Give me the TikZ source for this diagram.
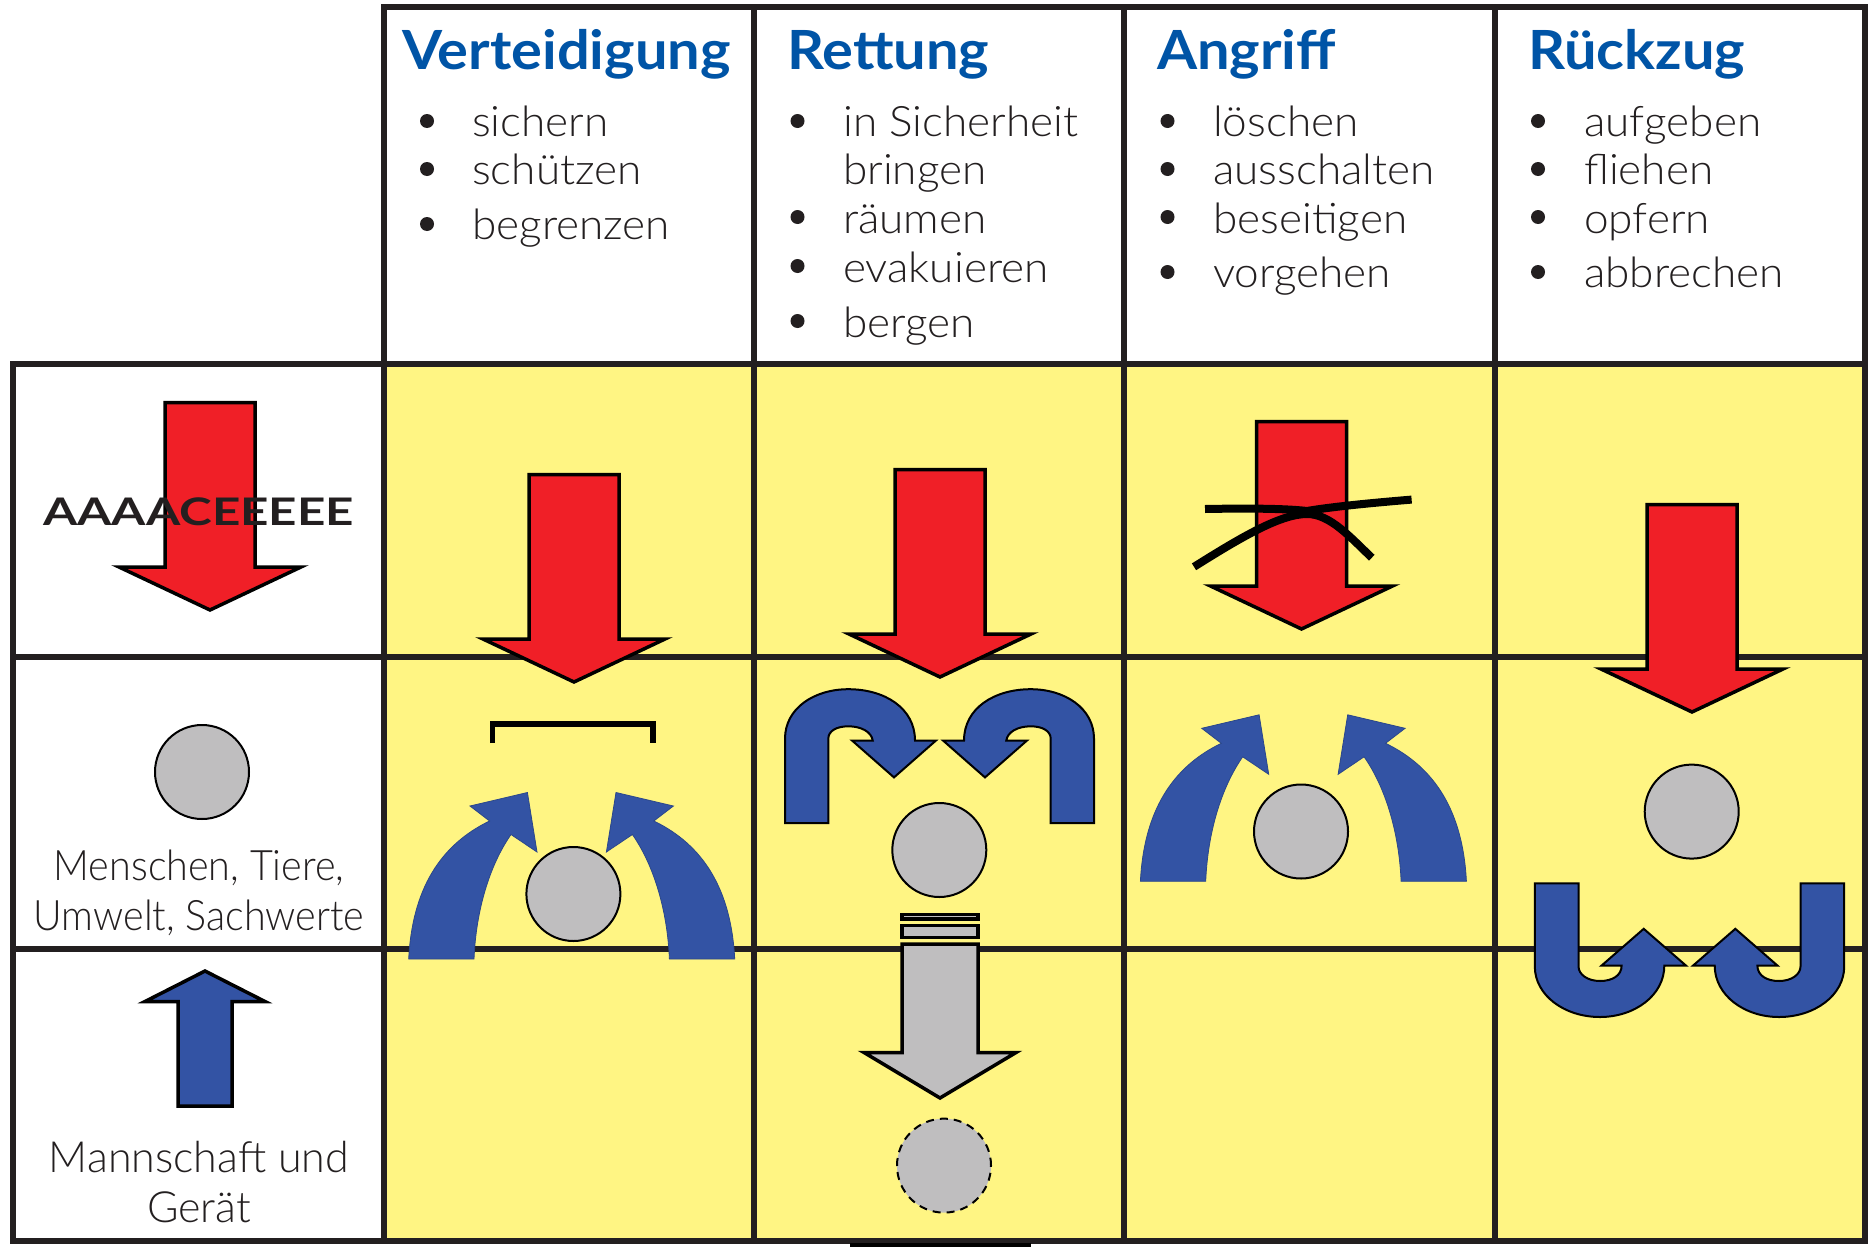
\documentclass[tikz,border=0pt]{standalone}
\usepackage{fontspec}
\setmainfont{Lato}[UprightFont=* Light, BoldFont=* Bold]
\newfontfamily\headfont{Lato}[UprightFont=* Bold, FakeStretch=1.07]
\newfontfamily\wordfont{Lato}[UprightFont=* Light, FakeStretch=1.05]
\newfontfamily\narrowfont{Lato}[UprightFont=* Light, FakeStretch=0.94]
\newfontfamily\widefont{Lato}[UprightFont=* Bold, FakeStretch=1.3]
\definecolor{border}{HTML}{231F20}
\definecolor{cellY}{HTML}{FFF583}
\definecolor{redA}{HTML}{F01F27}
\definecolor{blueA}{HTML}{3353A4}
\definecolor{greyA}{HTML}{BFBEBF}
\definecolor{headC}{HTML}{0054A6}
\tikzset{
  rule/.style={line width=6pt, draw=border, line cap=rect},
  outl/.style={line width=3.5pt, draw=black, miter limit=10},
  thinoutl/.style={line width=2pt, draw=black, miter limit=10},
  bracket/.style={line width=5.5pt, draw=black},
  strike/.style={line width=8pt, draw=black},
  ball/.style={circle, fill=greyA, draw=black, line width=2pt, minimum size=94pt, inner sep=0pt},
  headlab/.style={anchor=base west, text=headC, font=\headfont\fontsize{54}{54}\selectfont, inner sep=0pt},
  word/.style={anchor=base west, text=border, font=\wordfont\fontsize{42}{42}\selectfont, inner sep=0pt},
  dot/.style={circle, fill=border, minimum size=14pt, inner sep=0pt},
  side/.style={anchor=base, text=border, font=\narrowfont\fontsize{42}{42}\selectfont, inner sep=0pt},
  crew/.style={anchor=base, text=border, font=\fontsize{43}{43}\selectfont, inner sep=0pt},
  redarrow/.pic={
    \draw[outl, fill=redA] (-45,-0.5) -- (45,-0.5) -- (45,164) -- (91,164) -- (0,207)
      -- (-91,164) -- (-45,164) -- cycle;
  },
  bendarrow/.pic={
    \fill[blueA, draw=blueA!85!black, line width=0.8pt] (-163,0) .. controls (-159.5,-69) and (-132,-114) .. (-82.1,-138)
      -- (-101.7,-153) -- (-44.3,-166.5) -- (-34.7,-107) -- (-60.7,-124.5)
      .. controls (-82,-94) and (-95.7,-49) .. (-97.7,0) -- cycle;
  },
  archarrow/.pic={
    \draw[thinoutl, fill=blueA] (-154.5,0) -- (-154.5,-84.3)
      .. controls (-154.5,-115) and (-125,-133.8) .. (-91.2,-133.8)
      .. controls (-55,-133.8) and (-24.5,-115) .. (-24.5,-82.5)
      -- (-3.5,-82.5) -- (-45.5,-45.6) -- (-87.5,-82.5) -- (-66.8,-82.5)
      .. controls (-68,-91) and (-78,-96.7) .. (-91.2,-96.7)
      .. controls (-103,-96.7) and (-111.2,-92) .. (-111.2,-84.3)
      -- (-111.2,0) -- cycle;
  },
  cuparrow/.pic={
    \draw[thinoutl, fill=blueA] (-154.7,0) -- (-111,0) -- (-111,83)
      .. controls (-111,91) and (-102,97.6) .. (-89.5,97.6)
      .. controls (-77,97.6) and (-67.9,92) .. (-67.9,82.2)
      -- (-88,82.2) -- (-45.8,45.4) -- (-3.5,82.2) -- (-25.2,82.2)
      .. controls (-25.2,112) and (-55,133.6) .. (-89.5,133.6)
      .. controls (-125,133.6) and (-154.7,112) .. (-154.7,83) -- cycle;
  }
}
\begin{document}
\begin{tikzpicture}[x=1pt,y=-1pt]
  \useasboundingbox (0,0) rectangle (1870,1247);
  \fill[white] (0,0) rectangle (1870,1247);
  \fill[cellY] (384,364) rectangle (1865,1241);
  \foreach \xpos in {384,754,1124,1495,1865}
    \draw[rule] (\xpos,7) -- (\xpos,1241);
  \draw[rule] (384,7) -- (1865,7);
  \foreach \ypos in {364,657,949,1241}
    \draw[rule] (13,\ypos) -- (1865,\ypos);
  \draw[rule] (13,364) -- (13,1241);
  \fill[black] (850,1243) rectangle (1031,1247);

  % column heads
  \node[headlab] (vert) at (402,70) {Verteidigung};
  \node[headlab] (rett) at (787,70) {Rettung};
  \node[headlab] (angr) at (1157,70) {Angriff};
  \node[headlab] (rueck) at (1528,70) {Rückzug};

  \foreach \ypos/\txt in {136/sichern,184/schützen,239/begrenzen}
    \node[word] at (472,\ypos) {\txt};
  \foreach \ypos/\txt in {136/in Sicherheit,184/bringen,233/räumen,282/evakuieren,337/bergen}
    \node[word] at (843,\ypos) {\txt};
  \foreach \ypos/\txt in {136/löschen,184/ausschalten,233/beseitigen,287/vorgehen}
    \node[word] at (1213,\ypos) {\txt};
  \foreach \ypos/\txt in {136/aufgeben,184/fliehen,233/opfern,287/abbrechen}
    \node[word] at (1584,\ypos) {\txt};

  \foreach \ypos in {121,169,224}
    \node[dot] at (427,\ypos) {};
  \foreach \ypos in {121,217,266,321}
    \node[dot] at (797.5,\ypos) {};
  \foreach \ypos in {121,169,217,272}
    \node[dot] at (1167.5,\ypos) {};
  \foreach \ypos in {121,169,217,272}
    \node[dot] at (1538,\ypos) {};

  % left column
  \pic at (210,403) {redarrow};
  \node[anchor=base, text=border, font=\widefont\fontsize{38}{38}\selectfont, inner sep=0pt] (hazard) at (198.5,525) {AAAACEEEEE};
  \node[ball] (humanA) at (202,772) {};
  \node[side] (humanB) at (199,880) {Menschen, Tiere,};
  \node[side] (humanC) at (199,930) {Umwelt, Sachwerte};
  \draw[outl, fill=blueA] (205,971) -- (265,1001.5) -- (232,1001.5) -- (232,1106) -- (178,1106) -- (178,1001.5) -- (145,1001.5) -- cycle;
  \node[crew] (crewA) at (199,1172) {Mannschaft und};
  \node[crew] (crewB) at (199,1222) {Gerät};

  % Verteidigung
  \pic at (574,475) {redarrow};
  \draw[bracket] (492.5,743) -- (492.5,724) -- (653,724) -- (653,743);
  \pic at (571.7,959) {bendarrow};
  \pic[xscale=-1] at (571.7,959) {bendarrow};
  \node[ball] (defend) at (573.4,894) {};

  % Rettung
  \pic at (940,470) {redarrow};
  \pic at (939.5,823) {archarrow};
  \pic[xscale=-1] at (939.5,823) {archarrow};
  \node[ball] (rescue) at (939.3,850) {};
  \draw[outl, fill=greyA] (902,914.5) rectangle (978,919);
  \draw[outl, fill=greyA] (902,925.5) rectangle (978,937.5);
  \draw[outl, fill=greyA] (902,944) -- (978,944) -- (978,1052.5) -- (1016,1052.5) -- (940,1098) -- (864,1052.5) -- (902,1052.5) -- cycle;
  \node[ball, dash pattern=on 8pt off 6pt] (moved) at (944,1165.6) {};

  % Angriff
  \pic at (1301.5,422) {redarrow};
  \draw[strike] (1205,509) .. controls (1260,508) and (1290,509) .. (1307,511) .. controls (1330,507) and (1370,503) .. (1411.6,499.6);
  \draw[strike] (1194,566.8) .. controls (1240,538) and (1280,514) .. (1307,514) .. controls (1330,514) and (1350,537) .. (1371.8,557.7);
  \pic at (1303.4,881.3) {bendarrow};
  \pic[xscale=-1] at (1303.4,881.3) {bendarrow};
  \node[ball] (attack) at (1301,831.5) {};

  % Rückzug
  \pic at (1692,505) {redarrow};
  \node[ball] (retreat) at (1691.7,811.6) {};
  \pic at (1689.5,883.4) {cuparrow};
  \pic[xscale=-1] at (1689.5,883.4) {cuparrow};
\end{tikzpicture}
\end{document}
